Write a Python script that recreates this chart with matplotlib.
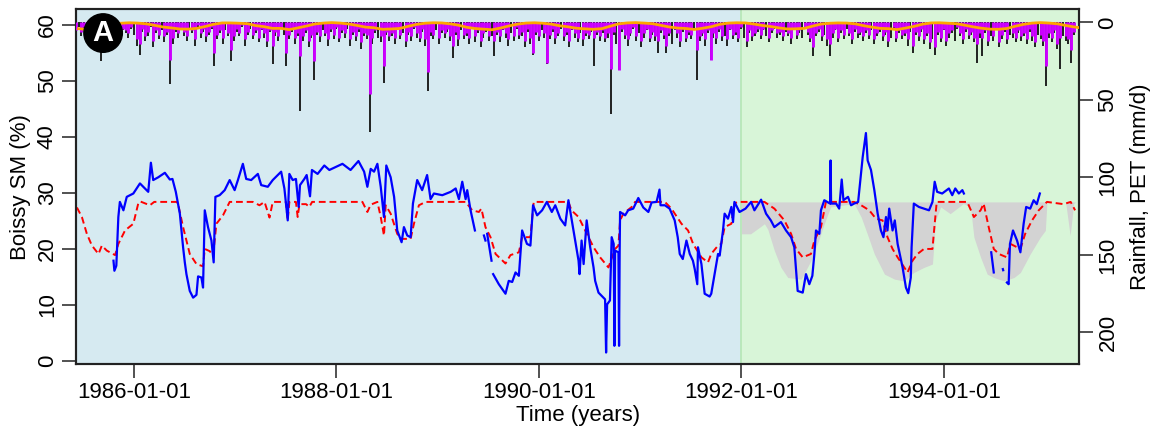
"""
Boissy soil moisture: observed vs simulated, with rainfall / PET bars on an
inverted right axis. Calibration period (blue) and validation period (green).
"""

import matplotlib
matplotlib.use("Agg")
import matplotlib.pyplot as plt
import numpy as np
import pandas as pd

nan = np.nan

# observed SM (%), decimal years; nan splits the gaps in the record
obs_t = [
    1985.797, 1985.806, 1985.825, 1985.845, 1985.860, 1985.895, 1985.928, 1985.993,
    1986.059, 1986.108, 1986.141, 1986.167, 1986.190, 1986.240, 1986.305, 1986.354,
    1986.380, 1986.413, 1986.453, 1986.485, 1986.502, 1986.518, 1986.551, 1986.584,
    1986.617, 1986.633, 1986.666, 1986.682, 1986.699, 1986.731, 1986.765, 1986.787,
    1986.804, 1986.846, 1986.896, 1986.945, 1986.994, 1987.027, 1987.076, 1987.109,
    1987.158, 1987.224, 1987.257, 1987.322, 1987.371, 1987.454, 1987.486, 1987.519,
    1987.535, 1987.568, 1987.600, 1987.627, 1987.640, 1987.683, 1987.706, 1987.739,
    1987.758, 1987.814, 1987.880, 1987.930, 1988.060, 1988.140, 1988.218, 1988.274,
    1988.306, 1988.339, 1988.372, 1988.405, 1988.438, 1988.470, 1988.493, 1988.536,
    1988.570, 1988.601, 1988.644, 1988.667, 1988.700, 1988.733, 1988.756, 1988.798,
    1988.847, 1988.896, 1988.930, 1988.963, 1989.044, 1989.127, 1989.176, 1989.208,
    1989.241, 1989.274, 1989.290, 1989.323, 1989.366, nan,
    1989.455, 1989.470, nan,
    1989.487, 1989.530, nan,
    1989.546, 1989.602, 1989.668, 1989.700, 1989.734, 1989.767, 1989.800, 1989.832,
    1989.880, 1989.914, 1989.940, 1989.980, 1990.030, 1990.077, 1990.126, 1990.160,
    1990.210, 1990.258, 1990.290, 1990.340, 1990.390, 1990.400, 1990.420, 1990.440,
    1990.470, 1990.505, 1990.538, 1990.554, 1990.587, 1990.652, 1990.662, 1990.672,
    1990.700, 1990.717, 1990.737, 1990.744, 1990.751, 1990.784, 1990.790, 1990.796,
    1990.800, 1990.850, 1990.880, 1990.930, 1990.980, 1991.030, 1991.080, 1991.112,
    1991.161, 1991.190, 1991.200, 1991.243, 1991.290, 1991.340, 1991.370, 1991.390,
    1991.420, 1991.456, 1991.489, 1991.520, 1991.538, 1991.563, 1991.570, 1991.604,
    1991.636, 1991.685, 1991.701, 1991.734, 1991.768, 1991.784, 1991.817, 1991.833,
    1991.866, 1991.900, 1991.916, 1991.930, 1991.980, 1992.040, 1992.095, 1992.128,
    1992.194, 1992.243, 1992.290, 1992.325, 1992.390, 1992.440, 1992.490, 1992.522,
    1992.555, 1992.605, 1992.637, 1992.670, 1992.700, 1992.720, 1992.736, 1992.769,
    1992.785, 1992.818, 1992.875, 1992.880, 1992.885, 1992.935, 1992.965, 1992.990,
    1993.005, 1993.050, 1993.080, 1993.110, 1993.150, 1993.195, 1993.227, 1993.244,
    1993.277, 1993.310, 1993.343, 1993.375, 1993.400, 1993.425, 1993.440, 1993.457,
    1993.490, 1993.512, 1993.540, 1993.589, 1993.622, 1993.645, 1993.670, 1993.678,
    1993.700, 1993.750, 1993.800, 1993.850, 1993.884, 1993.906, 1993.930, 1993.980,
    1994.047, 1994.080, 1994.110, 1994.145, 1994.180, 1994.195, nan,
    1994.465, 1994.490, nan,
    1994.580, 1994.583, nan,
    1994.620, 1994.637, 1994.650, 1994.680, 1994.720, 1994.753, 1994.785, 1994.810,
    1994.850, 1994.884, 1994.915, 1994.945,
]
obs_sm = [
    17.9, 16.1, 17.0, 25.7, 28.4, 26.9, 29.3, 29.9,
    31.7, 30.8, 30.2, 35.4, 32.3, 32.8, 33.6, 32.4,
    32.5, 30.2, 26.3, 20.3, 17.6, 15.5, 12.5, 11.3,
    11.8, 15.1, 14.9, 13.1, 26.9, 23.9, 21.5, 17.6,
    29.3, 29.6, 30.5, 32.3, 30.5, 32.3, 35.2, 32.5,
    32.3, 33.4, 31.4, 31.1, 32.3, 33.8, 30.8, 25.1,
    33.4, 32.3, 32.5, 27.5, 31.4, 32.5, 33.2, 29.4,
    34.1, 33.4, 34.9, 34.1, 35.2, 34.1, 35.7, 33.8,
    31.1, 34.3, 33.8, 35.2, 31.1, 25.7, 34.9, 32.8,
    29.3, 23.3, 21.2, 23.9, 22.4, 22.1, 28.1, 32.3,
    30.5, 33.2, 28.9, 29.9, 29.6, 30.2, 30.8, 28.9,
    32.0, 28.9, 30.5, 26.9, 23.3, nan,
    22.4, 21.5, nan,
    22.7, 17.9, nan,
    15.5, 13.7, 12.0, 14.3, 14.1, 15.8, 15.2, 23.3,
    20.9, 20.6, 27.8, 26.0, 26.9, 28.4, 26.6, 27.8,
    25.4, 24.2, 28.7, 23.3, 17.9, 15.5, 21.5, 17.3,
    25.1, 20.3, 16.7, 14.3, 12.2, 11.0, 1.5, 10.1,
    10.8, 22.1, 20.9, 2.7, 19.7, 19.4, 2.7, 19.7,
    26.6, 26.0, 26.9, 27.2, 29.1, 27.4, 26.6, 28.3,
    28.4, 30.6, 27.8, 27.8, 27.2, 25.1, 22.1, 19.1,
    18.2, 21.5, 19.1, 17.9, 16.4, 13.7, 20.3, 17.3,
    12.0, 11.5, 12.0, 15.5, 19.1, 18.8, 23.3, 26.3,
    25.4, 27.5, 24.8, 28.4, 26.6, 27.2, 28.4, 26.9,
    28.8, 26.3, 25.1, 23.9, 24.8, 23.3, 22.1, 20.3,
    12.5, 12.2, 15.5, 13.7, 15.2, 19.1, 23.3, 22.7,
    26.9, 28.7, 28.1, 35.8, 28.1, 28.1, 27.2, 32.4,
    28.7, 29.3, 27.8, 28.1, 28.4, 36.4, 40.7, 35.8,
    34.1, 30.5, 26.3, 23.3, 22.1, 25.7, 23.3, 27.2,
    23.3, 25.1, 20.9, 16.7, 13.1, 12.1, 14.9, 20.3,
    28.1, 27.5, 27.2, 26.9, 28.4, 32.0, 30.2, 29.9,
    30.8, 29.6, 30.8, 29.9, 30.5, 29.9, nan,
    19.4, 15.8, nan,
    16.4, 16.2, nan,
    14.0, 13.7, 20.9, 23.3, 21.5, 19.4, 24.5, 27.5,
    27.2, 28.7, 28.0, 29.9,
]

# simulated SM (%)
sim_t = [
    1985.436, 1985.485, 1985.534, 1985.584, 1985.649, 1985.682, 1985.731, 1985.813,
    1985.845, 1985.911, 1985.993, 1986.042, 1986.059, 1986.157, 1986.200, 1986.420,
    1986.436, 1986.485, 1986.551, 1986.617, 1986.682, 1986.699, 1986.748, 1986.781,
    1986.814, 1986.879, 1986.945, 1987.174, 1987.240, 1987.290, 1987.339, 1987.371,
    1987.500, 1987.519, 1987.535, 1987.600, 1987.617, 1987.635, 1987.700, 1987.732,
    1987.760, 1988.257, 1988.306, 1988.339, 1988.405, 1988.438, 1988.470, 1988.487,
    1988.536, 1988.601, 1988.634, 1988.733, 1988.766, 1988.815, 1988.881, 1989.275,
    1989.339, 1989.405, 1989.430, 1989.470, 1989.520, 1989.570, 1989.668, 1989.717,
    1989.800, 1989.832, 1989.914, 1989.947, 1990.290, 1990.320, 1990.390, 1990.456,
    1990.538, 1990.603, 1990.685, 1990.751, 1990.784, 1990.800, 1990.833, 1990.915,
    1990.948, 1991.243, 1991.308, 1991.407, 1991.472, 1991.522, 1991.604, 1991.669,
    1991.700, 1991.768, 1991.800, 1991.833, 1991.900, 1991.930, 1991.960, 1992.227,
    1992.325, 1992.424, 1992.490, 1992.539, 1992.605, 1992.686, 1992.720, 1992.785,
    1992.834, 1993.110, 1993.180, 1993.260, 1993.326, 1993.391, 1993.440, 1993.490,
    1993.540, 1993.638, 1993.687, 1993.736, 1993.800, 1993.884, 1993.900, 1993.926,
    1994.228, 1994.294, 1994.360, 1994.390, 1994.440, 1994.490, 1994.540, 1994.620,
    1994.655, 1994.753, 1994.800, 1994.868, 1994.934, 1995.016, 1995.180, 1995.250,
    1995.294,
]
sim_sm = [
    27.4, 25.7, 22.7, 20.6, 19.1, 20.6, 19.7, 18.9,
    20.9, 23.3, 24.5, 28.1, 28.5, 27.8, 28.4, 28.4,
    28.0, 23.9, 19.1, 17.3, 16.9, 20.0, 19.6, 18.8,
    24.5, 26.0, 28.4, 28.4, 27.8, 28.4, 25.6, 28.4,
    28.4, 25.1, 28.4, 28.4, 25.7, 28.0, 28.0, 27.5,
    28.4, 28.4, 26.6, 27.9, 28.4, 25.7, 22.4, 27.8,
    26.3, 22.7, 21.8, 21.8, 24.5, 27.8, 28.4, 28.4,
    26.9, 26.6, 27.2, 23.9, 22.1, 19.1, 17.4, 18.9,
    19.4, 22.1, 22.1, 28.4, 28.4, 26.9, 25.7, 23.3,
    20.3, 18.5, 16.7, 20.0, 20.6, 25.1, 26.3, 27.5,
    28.4, 28.4, 27.2, 24.5, 23.3, 20.9, 18.5, 17.6,
    19.1, 20.6, 20.9, 23.9, 24.5, 28.1, 28.4, 28.4,
    27.2, 25.1, 22.7, 20.0, 18.5, 19.1, 21.5, 23.9,
    28.4, 28.4, 27.8, 26.9, 25.4, 25.1, 22.1, 20.0,
    18.5, 15.8, 17.9, 19.1, 20.0, 20.0, 23.3, 28.4,
    28.4, 25.7, 26.9, 28.1, 23.9, 20.0, 19.1, 18.5,
    20.9, 20.0, 22.7, 25.1, 26.9, 28.4, 28.0, 28.4,
    26.9,
]

# uncertainty band over the validation period (lower edge; upper edge flat)
band_t = [
    1992.000, 1992.090, 1992.190, 1992.227, 1992.260, 1992.325, 1992.390, 1992.457,
    1992.590, 1992.686, 1992.752, 1992.818, 1992.880, 1993.110, 1993.180, 1993.240,
    1993.310, 1993.410, 1993.510, 1993.600, 1993.700, 1993.800, 1993.884, 1993.915,
    1993.965, 1994.060, 1994.190, 1994.260, 1994.294, 1994.360, 1994.425, 1994.490,
    1994.590, 1994.690, 1994.753, 1994.850, 1994.950, 1995.000, 1995.016, 1995.200,
    1995.245, 1995.280, 1995.300,
]
band_lo = [
    22.7, 22.7, 24.0, 24.5, 23.5, 19.7, 16.7, 14.9,
    14.6, 17.9, 21.0, 24.5, 27.5, 28.1, 25.7, 22.7,
    19.1, 15.5, 14.6, 14.3, 15.8, 16.7, 17.3, 25.1,
    27.5, 26.3, 28.1, 27.5, 22.1, 18.5, 15.5, 14.9,
    14.3, 14.9, 15.8, 19.1, 22.1, 23.3, 28.4, 28.4,
    22.4, 28.1, 28.4,
]
band_hi = 28.4

# rainfall (mm/d): largest daily value in each 10-day slot from 1985-06-05
rain_mm = [
    6, 3, 9, 4, 12, 2, 7, 5, 14, 25, 8, 3, 11, 6, 4, 9, 13, 5, 7,
    10, 4, 8, 15, 21, 6, 12, 9, 3, 16, 7, 11, 5, 13, 8, 40, 14, 6, 10,
    5, 9, 12, 4, 7, 15, 3, 10, 6, 13, 8, 4, 28, 11, 7, 14, 5, 9, 25,
    12, 6, 9, 3, 15, 8, 4, 11, 7, 13, 5, 10, 16, 6, 27, 9, 12, 4, 8,
    28, 11, 6, 14, 9, 57, 12, 7, 16, 10, 37, 8, 13, 5, 9, 15, 6, 11, 4,
    13, 7, 10, 4, 15, 8, 12, 6, 17, 9, 11, 71, 14, 7, 10, 13, 39, 8, 12,
    9, 14, 5, 11, 7, 16, 8, 12, 4, 10, 13, 6, 15, 44, 9, 11, 5, 14, 7,
    10, 6, 12, 23, 8, 15, 5, 11, 9, 14, 4, 13, 7, 16, 10, 6, 12, 9, 22,
    8, 13, 5, 10, 15, 7, 12, 4, 11, 9, 16, 6, 14, 21, 8, 12, 5, 10, 27,
    11, 6, 14, 9, 4, 12, 8, 16, 5, 10, 13, 7, 15, 9, 11, 6, 28, 8, 12,
    7, 13, 10, 59, 8, 14, 31, 6, 11, 15, 9, 4, 12, 7, 16, 10, 5, 13, 8,
    12, 20, 7, 11, 20, 9, 14, 5, 10, 16, 6, 13, 8, 11, 4, 37, 12, 9, 15,
    7, 24, 10, 14, 6, 12, 9, 15, 5, 11, 8, 13, 4, 10, 16, 7, 12, 9, 6,
    11, 5, 9, 13, 7, 4, 10, 8, 12, 6, 9, 14, 5, 11, 7, 10, 4, 8, 13,
    22, 9, 6, 12, 8, 15, 22, 10, 5, 13, 7, 11, 4, 9, 14, 6, 10, 8, 12,
    7, 11, 5, 14, 9, 6, 12, 8, 16, 10, 4, 13, 7, 11, 9, 15, 6, 20, 8,
    12, 6, 14, 9, 17, 11, 21, 8, 13, 5, 15, 10, 7, 12, 4, 9, 14, 6, 11,
    8, 13, 26, 10, 22, 7, 15, 9, 12, 5, 16, 11, 6, 14, 8, 10, 13, 7, 12,
    9, 14, 6, 12, 16, 8, 11, 15, 41, 10, 13, 7, 17, 30, 9, 12, 14, 26, 8,
]
# second (magenta) rainfall series, same slots
rain2_mm = [
    5, 0, 6, 3, 8, 2, 5, 0, 10, 17, 6, 2, 7, 4, 3, 0, 9, 4, 5,
    7, 3, 0, 11, 14, 4, 9, 6, 2, 12, 5, 8, 0, 9, 6, 24, 10, 4, 7,
    4, 6, 9, 0, 5, 11, 2, 7, 4, 9, 6, 3, 20, 8, 5, 10, 0, 7, 18,
    9, 4, 7, 2, 11, 6, 0, 8, 5, 10, 4, 7, 12, 5, 15, 6, 9, 3, 0,
    20, 8, 4, 10, 7, 22, 9, 5, 12, 8, 25, 6, 9, 0, 7, 11, 4, 8, 3,
    10, 5, 7, 0, 11, 6, 9, 4, 13, 7, 8, 46, 10, 5, 0, 9, 28, 6, 9,
    7, 10, 4, 8, 0, 12, 6, 9, 3, 7, 10, 4, 11, 32, 6, 8, 0, 10, 5,
    7, 4, 9, 15, 6, 11, 0, 8, 7, 10, 3, 9, 5, 12, 7, 4, 9, 0, 12,
    6, 9, 4, 7, 11, 0, 9, 3, 8, 6, 12, 4, 10, 20, 6, 9, 0, 7, 26,
    8, 4, 10, 7, 0, 9, 6, 12, 4, 7, 10, 0, 11, 7, 8, 4, 10, 6, 9,
    5, 10, 7, 30, 6, 0, 31, 4, 8, 11, 7, 3, 9, 0, 12, 7, 4, 10, 6,
    9, 12, 5, 8, 15, 7, 0, 4, 7, 12, 4, 10, 6, 8, 0, 18, 9, 7, 11,
    5, 24, 7, 10, 4, 9, 0, 11, 4, 8, 6, 10, 3, 0, 12, 5, 9, 7, 4,
    8, 4, 0, 10, 5, 3, 7, 6, 9, 0, 7, 10, 4, 8, 5, 0, 3, 6, 10,
    16, 7, 4, 9, 0, 11, 14, 7, 4, 10, 5, 8, 0, 7, 11, 4, 7, 6, 9,
    5, 8, 0, 11, 7, 4, 9, 6, 12, 0, 3, 10, 5, 8, 7, 11, 0, 15, 6,
    9, 4, 11, 7, 13, 0, 16, 6, 10, 4, 12, 7, 5, 0, 3, 7, 11, 4, 8,
    6, 10, 14, 7, 10, 5, 12, 0, 9, 4, 13, 8, 4, 11, 0, 7, 10, 5, 9,
    7, 11, 4, 9, 13, 0, 8, 12, 28, 7, 10, 5, 14, 10, 0, 9, 11, 18, 6,
]

# PET (mm/d), monthly means from June 1985 (one row = Jun..May)
pet_mm = [
    4.1, 4.6, 3.8, 2.5, 1.2, 0.6, 0.3, 0.5, 1.0, 1.9, 3.0, 3.6,
    4.3, 4.4, 3.9, 2.7, 1.3, 0.4, 0.4, 0.6, 0.9, 2.1, 2.8, 3.9,
    3.9, 4.7, 3.6, 2.4, 1.1, 0.5, 0.2, 0.5, 1.1, 2.0, 3.1, 3.5,
    4.5, 4.3, 4.0, 2.6, 1.4, 0.6, 0.3, 0.4, 1.0, 1.8, 3.2, 4.0,
    4.4, 4.8, 3.7, 2.3, 1.2, 0.5, 0.3, 0.6, 1.2, 2.2, 2.9, 3.8,
    4.2, 4.5, 4.1, 2.5, 1.0, 0.4, 0.2, 0.5, 0.9, 1.9, 3.0, 3.7,
    4.0, 4.6, 3.8, 2.8, 1.3, 0.5, 0.3, 0.4, 1.1, 2.0, 2.7, 3.6,
    4.3, 4.2, 3.9, 2.4, 1.1, 0.6, 0.4, 0.5, 1.0, 2.1, 3.1, 3.9,
    4.1, 4.7, 3.7, 2.6, 1.2, 0.4, 0.3, 0.6, 0.9, 1.8, 2.9, 3.8,
    4.4, 4.5, 4.0, 2.5, 1.3, 0.5, 0.2, 0.5, 1.0, 2.0, 3.0, 3.7,
]

tick_years = ["1986-01-01", "1988-01-01", "1990-01-01", "1992-01-01", "1994-01-01"]
split_date = "1992-01-01"


def to_dates(years):
    """Decimal years -> timestamps (nan kept as NaT)."""
    out = []
    for y in years:
        if np.isnan(y):
            out.append(pd.NaT)
        else:
            out.append(pd.Timestamp(int(y), 1, 1) + pd.Timedelta(days=(y - int(y)) * 365.25))
    return pd.to_datetime(out)


def main() -> None:
    plt.rcParams["font.family"] = ["Liberation Sans", "DejaVu Sans"]
    fs = 16

    fig = plt.figure(figsize=(11.57, 4.38), dpi=100)
    ax = fig.add_axes([0.0657, 0.1683, 0.8672, 0.8105])

    x0, x1 = to_dates([1985.427, 1995.336])
    split = pd.Timestamp(split_date)
    ax.axvspan(x0, split, color="#d6eaf1", lw=0, zorder=0)
    ax.axvspan(split, x1, color="#d8f5d8", lw=0, zorder=0)
    ax.axvline(split, color="#b4e6b4", lw=1.2, zorder=0.5)

    bt = to_dates(band_t)
    ax.fill_between(bt, band_lo, band_hi, color="#d3d3d3", lw=0, zorder=1)

    ax.plot(to_dates(sim_t), sim_sm, color="red", lw=1.4, ls=(0, (3.5, 2)), zorder=3)
    obs_dates = to_dates(obs_t)
    ax.plot(obs_dates, np.array(obs_sm, dtype=float), color="blue", lw=1.6, zorder=4)

    ax.set_xlim(x0, x1)
    ax.set_ylim(-0.6, 62.8)
    ax.set_yticks([0, 10, 20, 30, 40, 50, 60])
    ax.set_xticks(pd.to_datetime(tick_years))
    ax.set_xticklabels(tick_years)
    ax.set_ylabel("Boissy SM (%)", fontsize=fs, labelpad=4)
    ax.set_xlabel("Time (years)", fontsize=fs, labelpad=1)

    # rainfall + PET on the inverted right axis
    ax2 = ax.twinx()
    slots = pd.date_range("1985-06-05", periods=len(rain_mm), freq="10D")
    ax2.vlines(slots, 0, rain_mm, color="#111111", lw=1.3, zorder=2)
    ax2.vlines(slots, 0, rain2_mm, color="#cc00ff", lw=2.1, zorder=3)
    pet_dates = pd.date_range("1985-06-01", periods=len(pet_mm), freq="MS") + pd.Timedelta(days=14)
    ax2.plot(pet_dates, pet_mm, color="#ffa500", lw=2, zorder=4)
    ax2.set_ylim(220.5, -8.4)
    ax2.set_yticks([0, 50, 100, 150, 200])
    ax2.set_ylabel("Rainfall, PET (mm/d)", fontsize=fs, labelpad=8)
    ax2.set_xlim(x0, x1)

    for a in (ax, ax2):
        a.tick_params(axis="both", labelsize=fs, length=10, width=1.2, color="#333333", pad=3)
        a.tick_params(axis="y", labelrotation=90)
        for lbl in a.get_yticklabels():
            lbl.set_va("center")
        for sp in a.spines.values():
            sp.set_linewidth(1.5)
            sp.set_color("#222222")

    # panel tag, on the top axes so the bars do not cover it
    ax2.text(0.027, 0.933, "A", transform=ax2.transAxes, ha="center", va="center",
             fontsize=21, fontweight="bold", color="white", zorder=10,
             bbox=dict(boxstyle="circle,pad=0.18", fc="black", ec="black"))

    fig.savefig("out.png", dpi=100)
    plt.close(fig)


if __name__ == "__main__":
    main()
